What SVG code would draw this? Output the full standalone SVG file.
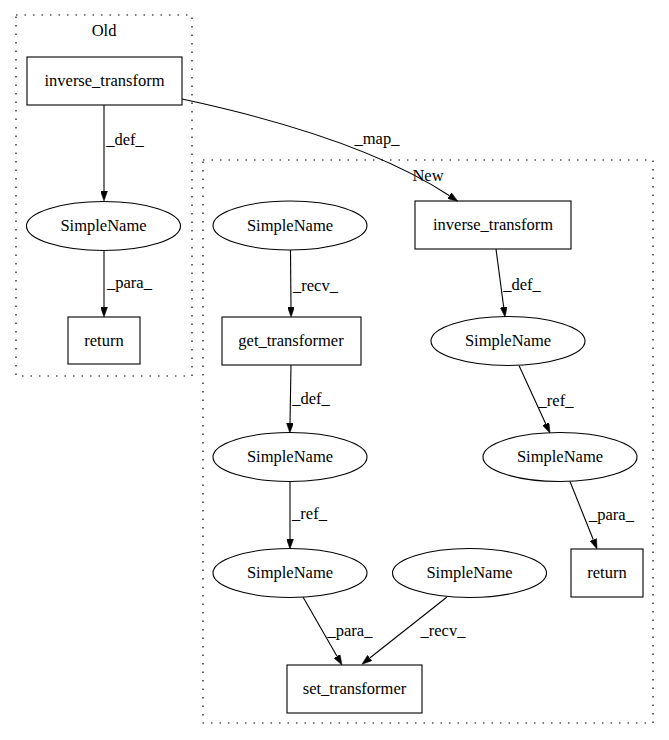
<svg xmlns="http://www.w3.org/2000/svg" width="669" height="740" viewBox="0 0 669 740">
<style>
text{font-family:"Liberation Serif","Times New Roman",serif;font-size:16.5px;fill:#000;text-anchor:middle}
.n{fill:none;stroke:#000;stroke-width:1.1}
.c{fill:none;stroke:#000;stroke-width:1.2;stroke-dasharray:1.5,7}
.e{fill:none;stroke:#000;stroke-width:1.1;marker-end:url(#ah)}
</style>
<defs>
<marker id="ah" viewBox="0 0 10 7" refX="0" refY="3.5" markerWidth="10" markerHeight="7" markerUnits="userSpaceOnUse" orient="auto">
<path d="M0,0 L10,3.5 L0,7 Z" fill="#000" stroke="#000" stroke-width="0.5"/>
</marker>
</defs>
<rect width="669" height="740" fill="#fff"/>
<g id="cluster_old">
<rect class="c" x="16" y="15" width="176" height="361"/>
<text x="104" y="36">Old</text>
</g>
<g id="cluster_new">
<rect class="c" x="203" y="160" width="450" height="563"/>
<text x="428" y="181">New</text>
</g>
<g id="old_inverse_transform">
<rect class="n" x="27" y="57" width="155" height="48"/>
<text x="104.5" y="86">inverse_transform</text>
</g>
<g id="old_simplename">
<ellipse class="n" cx="103.5" cy="226" rx="77" ry="24.5"/>
<text x="103.5" y="231">SimpleName</text>
</g>
<g id="old_return">
<rect class="n" x="68" y="317" width="72" height="47"/>
<text x="104" y="345.5">return</text>
</g>
<g id="new_inverse_transform">
<rect class="n" x="415" y="201" width="156" height="48"/>
<text x="493" y="230">inverse_transform</text>
</g>
<g id="new_simplename_recv">
<ellipse class="n" cx="290" cy="225.5" rx="77" ry="24.5"/>
<text x="290" y="230.5">SimpleName</text>
</g>
<g id="new_get_transformer">
<rect class="n" x="222" y="317" width="139" height="48"/>
<text x="291" y="346">get_transformer</text>
</g>
<g id="new_simplename_def_inv">
<ellipse class="n" cx="508" cy="341" rx="77" ry="24.5"/>
<text x="508" y="346">SimpleName</text>
</g>
<g id="new_simplename_def_get">
<ellipse class="n" cx="290" cy="457" rx="77" ry="24.5"/>
<text x="290" y="462">SimpleName</text>
</g>
<g id="new_simplename_ref_inv">
<ellipse class="n" cx="560" cy="457" rx="77" ry="24.5"/>
<text x="560" y="462">SimpleName</text>
</g>
<g id="new_simplename_ref_get">
<ellipse class="n" cx="290" cy="573" rx="77" ry="24.5"/>
<text x="290" y="578">SimpleName</text>
</g>
<g id="new_simplename_recv2">
<ellipse class="n" cx="469.5" cy="573" rx="77" ry="24.5"/>
<text x="469.5" y="578">SimpleName</text>
</g>
<g id="new_return">
<rect class="n" x="571" y="549" width="72" height="48"/>
<text x="607" y="578">return</text>
</g>
<g id="new_set_transformer">
<rect class="n" x="287" y="665" width="135" height="48"/>
<text x="354.5" y="694">set_transformer</text>
</g>
<g id="edges">
<path class="e" d="M104,105 L104,191"/>
<text x="125" y="145">_def_</text>
<path class="e" d="M104,250.5 L104,307"/>
<text x="129.5" y="288">_para_</text>
<path class="e" d="M182,99 C280,120 380,150 449.5,195.7"/>
<text x="377" y="144">_map_</text>
<path class="e" d="M290.5,250 L291,307"/>
<text x="315.5" y="291">_recv_</text>
<path class="e" d="M291,365 L290,423"/>
<text x="311" y="404">_def_</text>
<path class="e" d="M496,249 L503.7,307.1"/>
<text x="522" y="290">_def_</text>
<path class="e" d="M519,365.5 L545.8,423.9"/>
<text x="556" y="406">_ref_</text>
<path class="e" d="M290,481.5 L290,539"/>
<text x="309.5" y="519">_ref_</text>
<path class="e" d="M570,481.5 L593.3,539.7"/>
<text x="611.5" y="520">_para_</text>
<path class="e" d="M303,597 L337,656.3"/>
<text x="350" y="636">_para_</text>
<path class="e" d="M447,597 L369.8,658"/>
<text x="443" y="636">_recv_</text>
</g>
</svg>
